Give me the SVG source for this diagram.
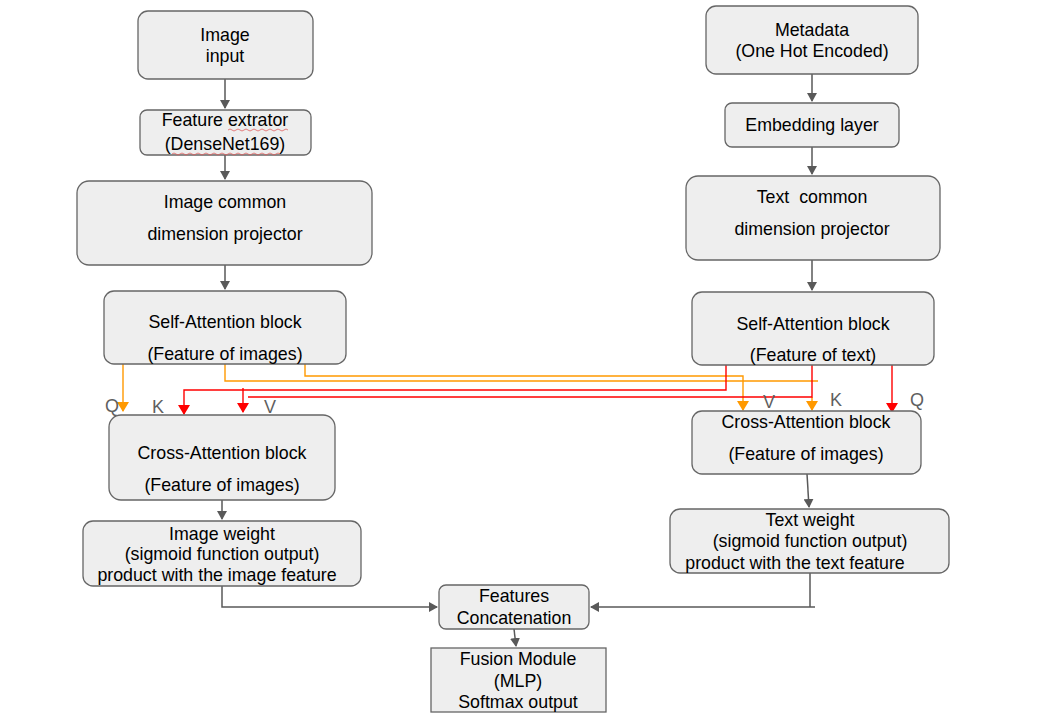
<svg xmlns="http://www.w3.org/2000/svg" width="1037" height="715" viewBox="0 0 1037 715">
<defs>
<style>
.n{fill:#eeeeee;stroke:#666666;stroke-width:1.3}
.t{font-family:"Liberation Sans",Arial,sans-serif;font-size:17.8px;fill:#000;text-anchor:middle}
.l{font-family:"Liberation Sans",Arial,sans-serif;font-size:18px;fill:#5f5f5f;text-anchor:middle}
.g{fill:none;stroke:#595959;stroke-width:1.5}
.o{fill:none;stroke:#ff9900;stroke-width:1.4}
.r{fill:none;stroke:#ff0000;stroke-width:1.4}
.sq{fill:none;stroke:#e06060;stroke-width:0.8}
</style>
<marker id="ag" markerWidth="10" markerHeight="10" refX="8" refY="5" orient="auto" markerUnits="userSpaceOnUse"><path d="M0,0 L9,5 L0,10 z" fill="#595959"/></marker>
<marker id="ao" markerWidth="10" markerHeight="12" refX="9" refY="6" orient="auto" markerUnits="userSpaceOnUse"><path d="M0,0 L10,6 L0,12 z" fill="#ff9900"/></marker>
<marker id="ar" markerWidth="10" markerHeight="12" refX="9" refY="6" orient="auto" markerUnits="userSpaceOnUse"><path d="M0,0 L10,6 L0,12 z" fill="#ff0000"/></marker>
</defs>
<rect width="1037" height="715" fill="#ffffff"/>

<g id="connectors">
<path class="g" d="M225,79 V108" marker-end="url(#ag)"/>
<path class="g" d="M225,155 V179" marker-end="url(#ag)"/>
<path class="g" d="M225,265 V289" marker-end="url(#ag)"/>
<path class="g" d="M222,500 V519" marker-end="url(#ag)"/>
<path class="g" d="M222,586 V607 H437" marker-end="url(#ag)"/>
<path class="g" d="M815,607 H591" marker-end="url(#ag)"/>
<path class="g" d="M810,573 V607"/>
<path class="g" d="M514,629 L516,646" marker-end="url(#ag)"/>
<path class="g" d="M812,74 V101" marker-end="url(#ag)"/>
<path class="g" d="M812,147 V174" marker-end="url(#ag)"/>
<path class="g" d="M812,260 V290" marker-end="url(#ag)"/>
<path class="g" d="M807,474 L809,507" marker-end="url(#ag)"/>

<path class="o" d="M123,364 V411" marker-end="url(#ao)"/>
<path class="o" d="M225,364 V381 H818"/>
<path class="o" d="M305,364 V376 H743 V410" marker-end="url(#ao)"/>
<path class="o" d="M812,397 V410" marker-end="url(#ao)"/>

<path class="r" d="M726,358 V390 H184 V414" marker-end="url(#ar)"/>
<path class="r" d="M812,365 V397 H248"/>
<path class="r" d="M243,388 V412" marker-end="url(#ar)"/>
<path class="r" d="M892,357 V412" marker-end="url(#ar)"/>
</g>

<g id="labels">
<text class="l" x="112" y="412">Q</text>
<text class="l" x="158" y="413">K</text>
<text class="l" x="270" y="413">V</text>
<text class="l" x="769" y="408">V</text>
<text class="l" x="836" y="406">K</text>
<text class="l" x="917" y="406">Q</text>
</g>

<g id="image-input">
<rect class="n" x="138" y="11" width="175" height="68" rx="10"/>
<text class="t" x="225" y="41">Image</text>
<text class="t" x="225" y="62">input</text>
</g>

<g id="feature-extractor">
<rect class="n" x="140" y="110" width="171" height="45" rx="7"/>
<text class="t" x="225" y="126">Feature extrator</text>
<text class="t" x="225" y="150">(DenseNet169)</text>
<path class="sq" d="M228,130 q2,-2 4,0 t4,0 t4,0 t4,0 t4,0 t4,0 t4,0 t4,0 t4,0 t4,0 t4,0 t4,0 t4,0 t4,0 t4,0"/>
<path class="sq" d="M172,154 q2,-2 4,0 t4,0 t4,0 t4,0 t4,0 t4,0 t4,0 t4,0 t4,0 t4,0 t4,0 t4,0 t4,0 t4,0 t4,0 t4,0 t4,0 t4,0 t4,0 t4,0 t4,0 t4,0 t4,0 t4,0 t4,0 t4,0 t4,0"/>
</g>

<g id="image-projector">
<rect class="n" x="77" y="181" width="295" height="84" rx="12"/>
<text class="t" x="225" y="208">Image common</text>
<text class="t" x="225" y="240">dimension projector</text>
</g>

<g id="self-attn-img">
<rect class="n" x="104" y="291" width="242" height="73" rx="10"/>
<text class="t" x="225" y="328">Self-Attention block</text>
<text class="t" x="225" y="360">(Feature of images)</text>
</g>

<g id="cross-attn-left">
<rect class="n" x="109" y="415" width="226" height="85" rx="12"/>
<text class="t" x="222" y="459">Cross-Attention block</text>
<text class="t" x="222" y="491">(Feature of images)</text>
</g>

<g id="image-weight">
<rect class="n" x="83" y="521" width="278" height="65" rx="10"/>
<text class="t" x="222" y="540">Image weight</text>
<text class="t" x="222" y="560">(sigmoid function output)</text>
<text class="t" x="217" y="581">product with the image feature</text>
</g>

<g id="concat">
<rect class="n" x="439" y="585" width="150" height="44" rx="7"/>
<text class="t" x="514" y="602">Features</text>
<text class="t" x="514" y="624">Concatenation</text>
</g>

<g id="fusion">
<rect class="n" x="431" y="648" width="175" height="64"/>
<text class="t" x="518" y="665">Fusion Module</text>
<text class="t" x="518" y="687">(MLP)</text>
<text class="t" x="518" y="708">Softmax output</text>
</g>

<g id="metadata">
<rect class="n" x="706" y="6" width="212" height="68" rx="10"/>
<text class="t" x="812" y="36">Metadata</text>
<text class="t" x="812" y="57">(One Hot Encoded)</text>
</g>

<g id="embedding">
<rect class="n" x="725" y="103" width="174" height="44" rx="7"/>
<text class="t" x="812" y="131">Embedding layer</text>
</g>

<g id="text-projector">
<rect class="n" x="686" y="176" width="254" height="84" rx="12"/>
<text class="t" x="812" y="203" xml:space="preserve">Text  common</text>
<text class="t" x="812" y="235">dimension projector</text>
</g>

<g id="self-attn-text">
<rect class="n" x="692" y="292" width="242" height="73" rx="10"/>
<text class="t" x="813" y="330">Self-Attention block</text>
<text class="t" x="813" y="361">(Feature of text)</text>
</g>

<g id="cross-attn-right">
<rect class="n" x="692" y="411" width="229" height="63" rx="10"/>
<text class="t" x="806" y="428">Cross-Attention block</text>
<text class="t" x="806" y="460">(Feature of images)</text>
</g>

<g id="text-weight">
<rect class="n" x="670" y="509" width="279" height="64" rx="10"/>
<text class="t" x="810" y="526">Text weight</text>
<text class="t" x="810" y="547">(sigmoid function output)</text>
<text class="t" x="795" y="569">product with the text feature</text>
</g>
</svg>
